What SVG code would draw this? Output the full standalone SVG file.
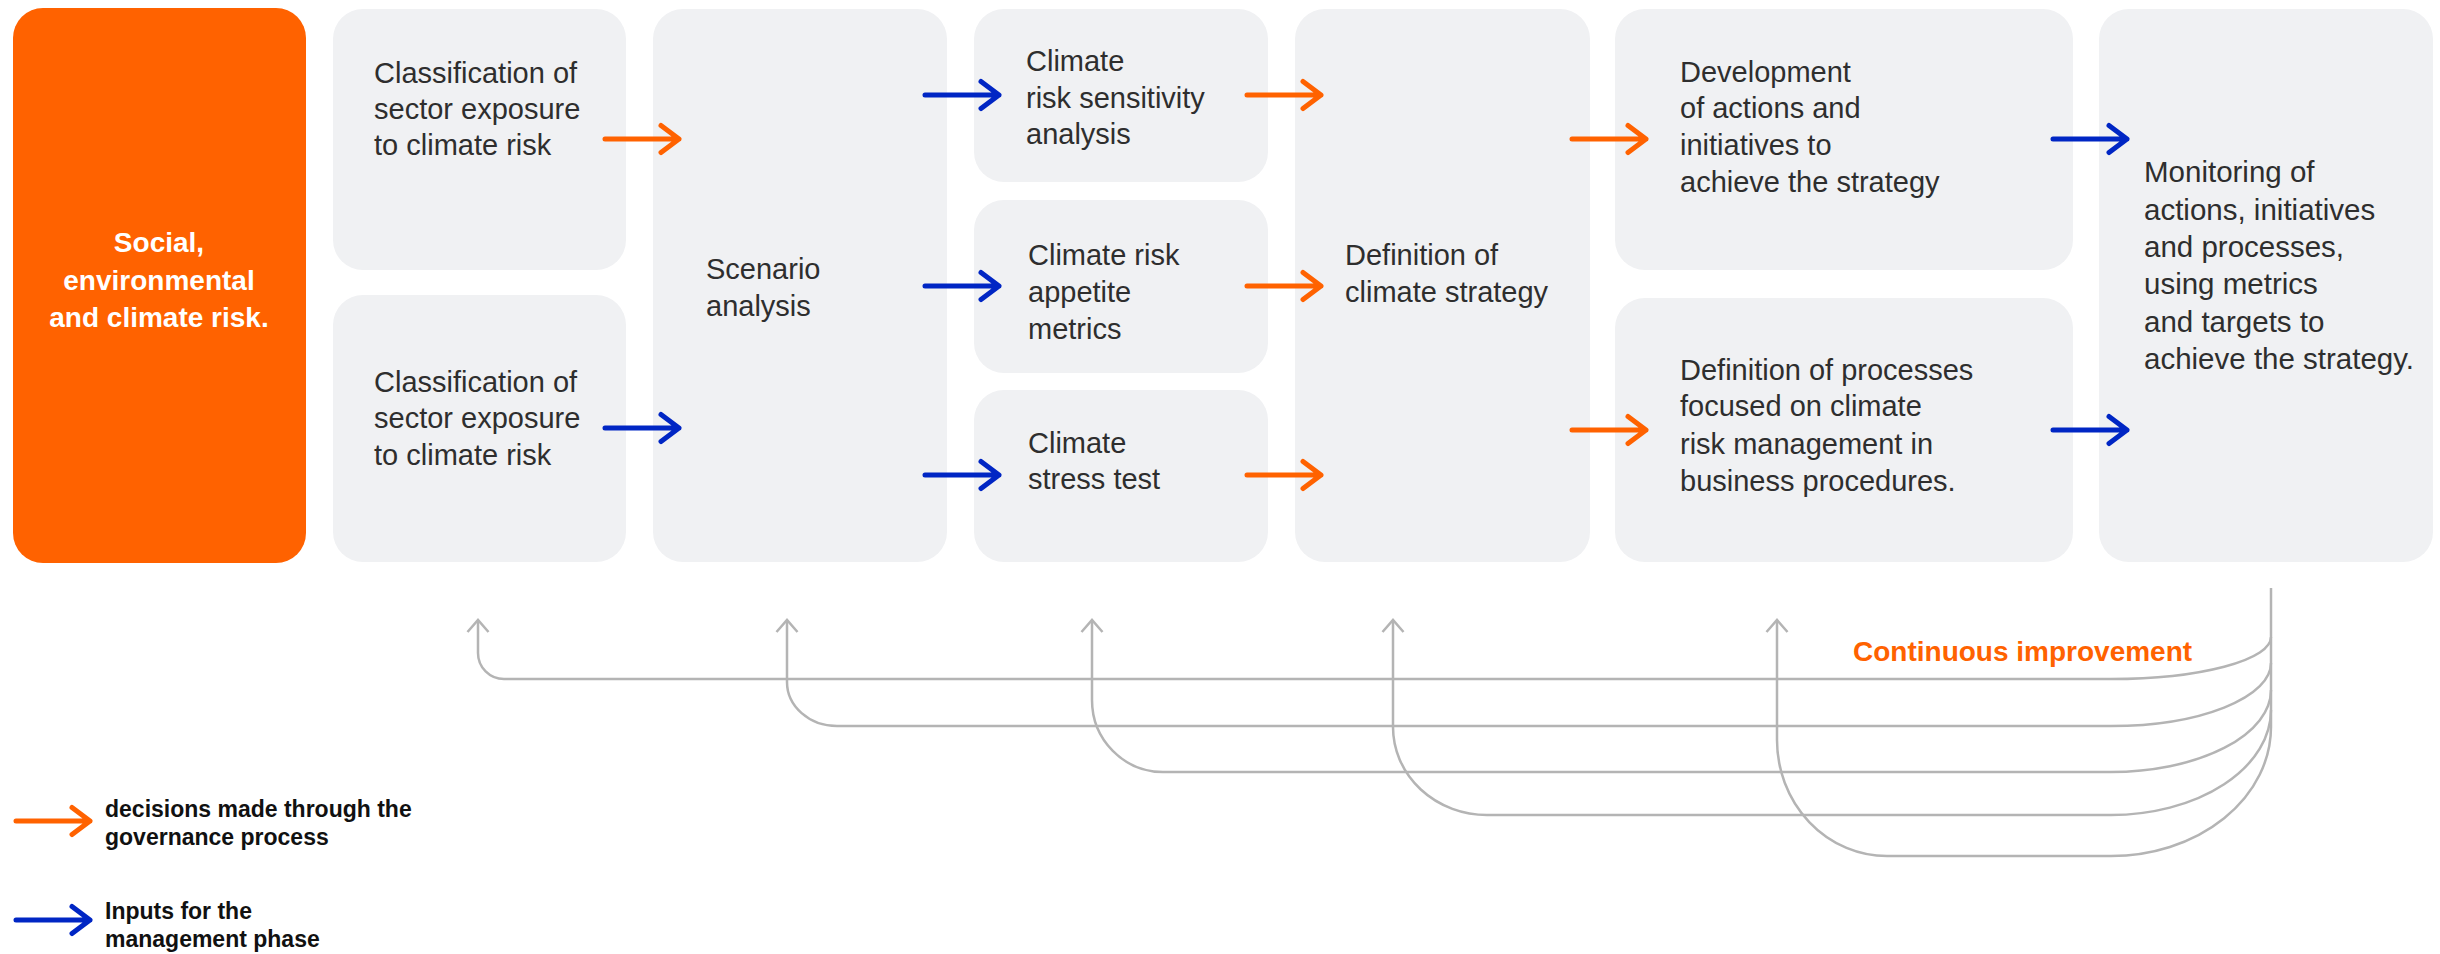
<svg xmlns="http://www.w3.org/2000/svg" xmlns:xlink="http://www.w3.org/1999/xlink" width="2440" height="954" viewBox="0 0 2440 954">
  <style>
    .box { fill: #F0F1F3; }
    .hero { fill: #FF6200; }
    .txt { font-family: "Liberation Sans", Arial, sans-serif; font-size: 29px; fill: #2E2E2E; }
    .txt-wide { font-size: 29.5px; }
    .hero-txt { font-family: "Liberation Sans", Arial, sans-serif; font-size: 28px; font-weight: bold; fill: #FFFFFF; text-anchor: middle; }
    .legend-txt { font-family: "Liberation Sans", Arial, sans-serif; font-size: 23px; font-weight: bold; fill: #111111; }
    .loop-label { font-family: "Liberation Sans", Arial, sans-serif; font-size: 28px; font-weight: bold; fill: #FF6200; }
    .arr { fill: none; stroke-width: 5; stroke-linecap: round; stroke-linejoin: round; }
    .orange { stroke: #FF6200; }
    .blue { stroke: #0026C4; }
    .loop { fill: none; stroke: #B4B4B4; stroke-width: 2.5; stroke-linejoin: round; }
  </style>
  <defs>
    <!-- horizontal flow arrow, 74 px long, drawn from its tail at the origin -->
    <path id="flow" d="M0,0 H74 M56,-13.5 L74,0 L56,13.5"/>
    <marker id="upHead" markerUnits="userSpaceOnUse" markerWidth="30" markerHeight="30" viewBox="-15 -15 30 30" refX="0" refY="0" orient="auto-start-reverse" overflow="visible">
      <path d="M-12,-10.5 L0,0 L-12,10.5" fill="none" stroke="#B4B4B4" stroke-width="2.5"/>
    </marker>
  </defs>

  <!-- process nodes -->
  <g id="risk">
    <rect class="hero" x="13" y="8" width="293" height="555" rx="30"/>
    <text class="hero-txt"><tspan x="159" y="252">Social,</tspan><tspan x="159" y="290">environmental</tspan><tspan x="159" y="327">and climate risk.</tspan></text>
  </g>
  <g id="classification-1">
    <rect class="box" x="333" y="9" width="293" height="261" rx="30"/>
    <text class="txt"><tspan x="374" y="83">Classification of</tspan><tspan x="374" y="119">sector exposure</tspan><tspan x="374" y="155">to climate risk</tspan></text>
  </g>
  <g id="classification-2">
    <rect class="box" x="333" y="295" width="293" height="267" rx="30"/>
    <text class="txt"><tspan x="374" y="392">Classification of</tspan><tspan x="374" y="428">sector exposure</tspan><tspan x="374" y="465">to climate risk</tspan></text>
  </g>
  <g id="scenario">
    <rect class="box" x="653" y="9" width="294" height="553" rx="30"/>
    <text class="txt"><tspan x="706" y="279">Scenario</tspan><tspan x="706" y="316">analysis</tspan></text>
  </g>
  <g id="sensitivity">
    <rect class="box" x="974" y="9" width="294" height="173" rx="30"/>
    <text class="txt"><tspan x="1026" y="71">Climate</tspan><tspan x="1026" y="108">risk sensitivity</tspan><tspan x="1026" y="144">analysis</tspan></text>
  </g>
  <g id="appetite">
    <rect class="box" x="974" y="200" width="294" height="173" rx="30"/>
    <text class="txt"><tspan x="1028" y="265">Climate risk</tspan><tspan x="1028" y="302">appetite</tspan><tspan x="1028" y="339">metrics</tspan></text>
  </g>
  <g id="stress-test">
    <rect class="box" x="974" y="390" width="294" height="172" rx="30"/>
    <text class="txt"><tspan x="1028" y="453">Climate</tspan><tspan x="1028" y="489">stress test</tspan></text>
  </g>
  <g id="strategy">
    <rect class="box" x="1295" y="9" width="295" height="553" rx="30"/>
    <text class="txt"><tspan x="1345" y="265">Definition of</tspan><tspan x="1345" y="302">climate strategy</tspan></text>
  </g>
  <g id="actions">
    <rect class="box" x="1615" y="9" width="458" height="261" rx="30"/>
    <text class="txt"><tspan x="1680" y="82">Development</tspan><tspan x="1680" y="118">of actions and</tspan><tspan x="1680" y="155">initiatives to</tspan><tspan x="1680" y="192">achieve the strategy</tspan></text>
  </g>
  <g id="processes">
    <rect class="box" x="1615" y="298" width="458" height="264" rx="30"/>
    <text class="txt"><tspan x="1680" y="380">Definition of processes</tspan><tspan x="1680" y="416">focused on climate</tspan><tspan x="1680" y="454">risk management in</tspan><tspan x="1680" y="491">business procedures.</tspan></text>
  </g>
  <g id="monitoring">
    <rect class="box" x="2099" y="9" width="334" height="553" rx="30"/>
    <text class="txt txt-wide"><tspan x="2144" y="182">Monitoring of</tspan><tspan x="2144" y="220">actions, initiatives</tspan><tspan x="2144" y="257">and processes,</tspan><tspan x="2144" y="294">using metrics</tspan><tspan x="2144" y="332">and targets to</tspan><tspan x="2144" y="369">achieve the strategy.</tspan></text>
  </g>

  <!-- connectors -->
  <g id="connectors">
    <use xlink:href="#flow" class="arr orange" x="605" y="139"/>
    <use xlink:href="#flow" class="arr blue" x="605" y="428"/>
    <use xlink:href="#flow" class="arr blue" x="925" y="95"/>
    <use xlink:href="#flow" class="arr blue" x="925" y="286"/>
    <use xlink:href="#flow" class="arr blue" x="925" y="475"/>
    <use xlink:href="#flow" class="arr orange" x="1247" y="95"/>
    <use xlink:href="#flow" class="arr orange" x="1247" y="286"/>
    <use xlink:href="#flow" class="arr orange" x="1247" y="475"/>
    <use xlink:href="#flow" class="arr orange" x="1572" y="139"/>
    <use xlink:href="#flow" class="arr orange" x="1572" y="430"/>
    <use xlink:href="#flow" class="arr blue" x="2053" y="139"/>
    <use xlink:href="#flow" class="arr blue" x="2053" y="430"/>

    <!-- continuous improvement feedback loops -->
    <path class="loop" d="M2271,588 V727"/>
    <path class="loop" marker-start="url(#upHead)" d="M478,620 V653 A26,26 0 0 0 504,679 H2111 A160,42 0 0 0 2271,637"/>
    <path class="loop" marker-start="url(#upHead)" d="M787,620 V682 A50,44 0 0 0 837,726 H2111 A160,63 0 0 0 2271,663"/>
    <path class="loop" marker-start="url(#upHead)" d="M1092,620 V700 A71,72 0 0 0 1163,772 H2111 A160,82 0 0 0 2271,690"/>
    <path class="loop" marker-start="url(#upHead)" d="M1393,620 V727 A94,88 0 0 0 1487,815 H2111 A160,105 0 0 0 2271,710"/>
    <path class="loop" marker-start="url(#upHead)" d="M1777,620 V740 A110,116 0 0 0 1887,856 H2111 A160,129 0 0 0 2271,727"/>
  </g>
  <text class="loop-label" x="1853" y="661">Continuous improvement</text>

  <!-- legend -->
  <g id="legend">
    <use xlink:href="#flow" class="arr orange" x="16" y="821"/>
    <text class="legend-txt"><tspan x="105" y="817">decisions made through the</tspan><tspan x="105" y="845">governance process</tspan></text>
    <use xlink:href="#flow" class="arr blue" x="16" y="920"/>
    <text class="legend-txt"><tspan x="105" y="919">Inputs for the</tspan><tspan x="105" y="947">management phase</tspan></text>
  </g>
</svg>
